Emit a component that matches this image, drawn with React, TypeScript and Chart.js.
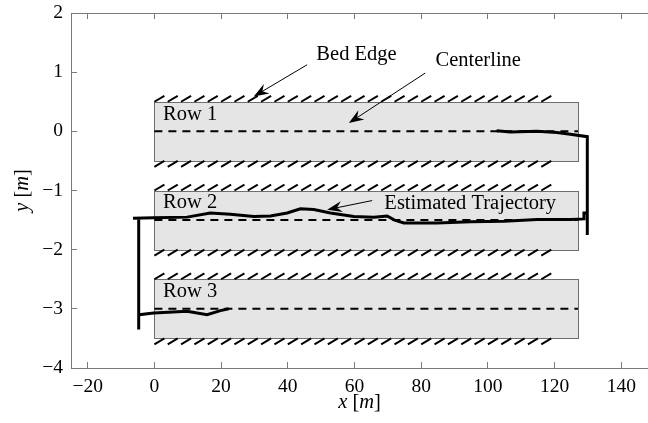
import React, { useEffect, useRef } from 'react';
import { Chart, registerables } from 'chart.js';

Chart.register(...registerables);

// ---- axes ----
const X_MIN = -25;
const X_MAX = 148;
const Y_MIN = -4;
const Y_MAX = 2;
const X_TICKS = [-20, 0, 20, 40, 60, 80, 100, 120, 140];
const Y_TICKS = [-4, -3, -2, -1, 0, 1, 2];

// ---- crop rows ----
const ROW_NAMES = ['Row 1', 'Row 2', 'Row 3'];
const ROW_CENTERS = [0, -1.5, -3];
const ROW_HALF = 0.5;
const ROW_START = 0;
const ROW_END = 127;
const ROW_LABEL_X = 2.6;
const ROW_LABEL_DY = 0.29;

// ---- bed edge hatching ----
const HATCH_START = 0;
const HATCH_END = 116;
const HATCH_STEP = 4;
const HATCH_LEN = 3;
const HATCH_RISE = 0.1;

// ---- estimated trajectory ----
const trajX = [
  102.6, 106.7, 114.7, 120.7, 124.7, 129.8, 129.8, 129.8, 128.8, 128.8,
  124.8, 114.8, 104.8, 94.8, 84.8, 74.8, 72.0, 69.8, 65.8, 59.8,
  52.8, 47.8, 43.8, 39.8, 34.8, 29.8, 22.8, 16.8, 9.8, -0.2,
  -6.4, -4.7, -4.7, -4.7, -0.2, 9.8, 15.8, 19.8, 22.3,
];
const trajY = [
  0.01, -0.01, 0.0, -0.02, -0.05, -0.09, -1.75, -1.38, -1.38, -1.48,
  -1.49, -1.49, -1.52, -1.53, -1.55, -1.55, -1.5, -1.43, -1.45, -1.44,
  -1.38, -1.32, -1.31, -1.38, -1.43, -1.44, -1.4, -1.38, -1.45, -1.46,
  -1.47, -1.47, -3.35, -3.1, -3.07, -3.04, -3.1, -3.03, -3.0,
];

// ---- annotations ----
const ANNOT_TEXT = ['Bed Edge', 'Centerline', 'Estimated Trajectory'];
const ANNOT_X = [60.6, 97.1, 94.7];
const ANNOT_Y = [1.3, 1.19, -1.22];
const ARROW_FROM_X = [45.8, 81.2, 65.3];
const ARROW_FROM_Y = [1.125, 0.985, -1.17];
const ARROW_TO_X = [29.8, 58.3, 51.8];
const ARROW_TO_Y = [0.59, 0.14, -1.325];

const FONT = '"Liberation Serif", "Times New Roman", serif';
const AXIS_COLOR = '#7a7a7a';
const TICK_LEN = -6; // negative: tick marks point into the plot

const fmt = (v: number) => (v < 0 ? '\u2212' + Math.abs(v) : String(v));

function buildHatches() {
  const pts: { x: number; y: number | null }[] = [];
  ROW_CENTERS.forEach((c) => {
    const top = c + ROW_HALF;
    const bot = c - ROW_HALF;
    for (let x = HATCH_START; x <= HATCH_END; x += HATCH_STEP) {
      pts.push({ x, y: top });
      pts.push({ x: x + HATCH_LEN, y: top + HATCH_RISE });
      pts.push({ x: x + HATCH_LEN, y: null });
      pts.push({ x, y: bot - HATCH_RISE });
      pts.push({ x: x + HATCH_LEN, y: bot });
      pts.push({ x: x + HATCH_LEN, y: null });
    }
  });
  return pts;
}

function buildCenterlines() {
  const pts: { x: number; y: number | null }[] = [];
  ROW_CENTERS.forEach((c) => {
    pts.push({ x: ROW_START, y: c });
    pts.push({ x: ROW_END, y: c });
    pts.push({ x: ROW_END, y: null });
  });
  return pts;
}

const decorPlugin = {
  id: 'decor',
  beforeDatasetsDraw(chart: any) {
    const { ctx, scales } = chart;
    const xs = scales.x;
    const ys = scales.y;
    ctx.save();
    ROW_CENTERS.forEach((c) => {
      const l = Math.round(xs.getPixelForValue(ROW_START)) + 0.5;
      const r = Math.round(xs.getPixelForValue(ROW_END)) + 0.5;
      const t = Math.round(ys.getPixelForValue(c + ROW_HALF)) + 0.5;
      const b = Math.round(ys.getPixelForValue(c - ROW_HALF)) + 0.5;
      ctx.fillStyle = '#e5e5e5';
      ctx.fillRect(l, t, r - l, b - t);
      ctx.strokeStyle = '#6e6e6e';
      ctx.lineWidth = 1;
      ctx.strokeRect(l, t, r - l, b - t);
    });
    ctx.restore();
  },
  afterDatasetsDraw(chart: any) {
    const { ctx, scales } = chart;
    const xs = scales.x;
    const ys = scales.y;
    ctx.save();

    // row labels
    ctx.fillStyle = '#000';
    ctx.font = `20.5px ${FONT}`;
    ctx.textAlign = 'left';
    ctx.textBaseline = 'middle';
    ROW_NAMES.forEach((name, i) => {
      ctx.fillText(name, xs.getPixelForValue(ROW_LABEL_X), ys.getPixelForValue(ROW_CENTERS[i] + ROW_LABEL_DY));
    });

    // annotations
    ctx.textAlign = 'center';
    ANNOT_TEXT.forEach((t, i) => {
      ctx.fillText(t, xs.getPixelForValue(ANNOT_X[i]), ys.getPixelForValue(ANNOT_Y[i]));
      const x0 = xs.getPixelForValue(ARROW_FROM_X[i]);
      const y0 = ys.getPixelForValue(ARROW_FROM_Y[i]);
      const x1 = xs.getPixelForValue(ARROW_TO_X[i]);
      const y1 = ys.getPixelForValue(ARROW_TO_Y[i]);
      const ang = Math.atan2(y1 - y0, x1 - x0);
      const L = 15;
      const W = 5.5;
      const N = 10;
      const ca = Math.cos(ang);
      const sa = Math.sin(ang);
      ctx.strokeStyle = '#000';
      ctx.lineWidth = 1;
      ctx.beginPath();
      ctx.moveTo(x0, y0);
      ctx.lineTo(x1 - ca * N, y1 - sa * N);
      ctx.stroke();
      ctx.beginPath();
      ctx.moveTo(x1, y1);
      ctx.lineTo(x1 - ca * L - sa * W, y1 - sa * L + ca * W);
      ctx.lineTo(x1 - ca * N, y1 - sa * N);
      ctx.lineTo(x1 - ca * L + sa * W, y1 - sa * L - ca * W);
      ctx.closePath();
      ctx.fillStyle = '#000';
      ctx.fill();
    });

    // axis titles with italic math symbols
    const drawParts = (parts: [string, boolean][], cx: number, cy: number, rot: number) => {
      ctx.save();
      ctx.translate(cx, cy);
      ctx.rotate(rot);
      ctx.textAlign = 'left';
      ctx.textBaseline = 'middle';
      const fontFor = (it: boolean) => `${it ? 'italic ' : ''}20.5px ${FONT}`;
      let total = 0;
      parts.forEach(([s, it]) => {
        ctx.font = fontFor(it);
        total += ctx.measureText(s).width;
      });
      let x = -total / 2;
      parts.forEach(([s, it]) => {
        ctx.font = fontFor(it);
        ctx.fillText(s, x, 0);
        x += ctx.measureText(s).width;
      });
      ctx.restore();
    };
    drawParts([['x', true], [' [', false], ['m', true], [']', false]], (xs.left + xs.right) / 2, 403, 0);
    drawParts([['y', true], [' [', false], ['m', true], [']', false]], 23, (ys.top + ys.bottom) / 2, -Math.PI / 2);
    ctx.restore();
  },
};

export default function App() {
  const ref = useRef<HTMLCanvasElement | null>(null);

  useEffect(() => {
    if (!ref.current) return;
    const tickFont = { family: FONT, size: 19.5 };
    const gridOpts = {
      display: true,
      drawOnChartArea: false,
      drawTicks: true,
      tickLength: TICK_LEN,
      color: AXIS_COLOR,
      lineWidth: 1,
    };
    const chart = new Chart(ref.current, {
      type: 'line',
      data: {
        datasets: [
          {
            label: 'hatch',
            data: buildHatches() as any,
            borderColor: '#000',
            borderWidth: 2,
            pointRadius: 0,
            spanGaps: false,
          },
          {
            label: 'centerline',
            data: buildCenterlines() as any,
            borderColor: '#000',
            borderWidth: 2,
            borderDash: [8, 6],
            pointRadius: 0,
            spanGaps: false,
          },
          {
            label: 'Estimated Trajectory',
            data: trajX.map((x, i) => ({ x, y: trajY[i] })),
            borderColor: '#000',
            borderWidth: 3,
            pointRadius: 0,
            tension: 0,
          },
        ],
      },
      options: {
        animation: false,
        responsive: false,
        maintainAspectRatio: false,
        layout: { padding: { top: 13, right: 0, left: 0, bottom: 0 } },
        plugins: { legend: { display: false }, tooltip: { enabled: false } },
        scales: {
          x: {
            type: 'linear',
            position: 'bottom',
            min: X_MIN,
            max: X_MAX,
            afterBuildTicks: (s: any) => {
              s.ticks = X_TICKS.map((v) => ({ value: v }));
            },
            afterFit: (s: any) => {
              s.height = 55;
              s.paddingLeft = 0;
              s.paddingRight = 0;
            },
            ticks: {
              callback: (v: any) => fmt(Number(v)),
              font: tickFont,
              color: '#000',
              padding: 7 - TICK_LEN,
              autoSkip: false,
              maxRotation: 0,
            },
            grid: gridOpts,
            border: { display: true, color: AXIS_COLOR, width: 1 },
          },
          x2: {
            type: 'linear',
            position: 'top',
            min: X_MIN,
            max: X_MAX,
            afterBuildTicks: (s: any) => {
              s.ticks = X_TICKS.map((v) => ({ value: v }));
            },
            afterFit: (s: any) => {
              s.height = 0;
              s.paddingLeft = 0;
              s.paddingRight = 0;
            },
            ticks: { display: false },
            grid: gridOpts,
            border: { display: true, color: AXIS_COLOR, width: 1 },
          },
          y: {
            type: 'linear',
            min: Y_MIN,
            max: Y_MAX,
            afterBuildTicks: (s: any) => {
              s.ticks = Y_TICKS.map((v) => ({ value: v }));
            },
            afterFit: (s: any) => {
              s.width = 71;
              s.paddingTop = 0;
              s.paddingBottom = 0;
            },
            ticks: {
              callback: (v: any) => fmt(Number(v)),
              font: tickFont,
              color: '#000',
              padding: 8 - TICK_LEN,
              autoSkip: false,
            },
            grid: gridOpts,
            border: { display: true, color: AXIS_COLOR, width: 1 },
          },
        },
      },
      plugins: [decorPlugin],
    });
    return () => chart.destroy();
  }, []);

  return (
    <div style={{ position: 'fixed', left: 0, top: 0, width: 648, height: 423, background: '#fff' }}>
      <canvas ref={ref} width={648} height={423} style={{ display: 'block' }} />
    </div>
  );
}
